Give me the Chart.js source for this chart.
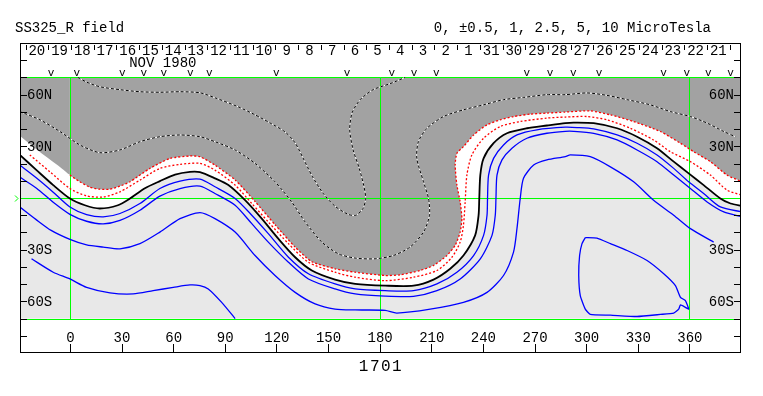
<!DOCTYPE html>
<html>
<head>
<meta charset="utf-8">
<script src="https://cdn.jsdelivr.net/npm/chart.js@4.4.0/dist/chart.umd.min.js"></script>
<style>
  html, body { margin: 0; padding: 0; background: #fff; }
  canvas { display: block; }
</style>
</head>
<body>
<canvas id="synoptic" width="763" height="396"></canvas>
<script>
/* ---------- texts ---------- */
const titleText = "SS325_R field";
const levelsText = "0, \u00b10.5, 1, 2.5, 5, 10 MicroTesla";
const monthText = "NOV 1980";
const rotationText = "1701";

/* ---------- axes ---------- */
const lonMin = -29, lonMax = 390;
const dataLat = 70; // map is drawn between 70S and 70N
const lonTicks = [0, 30, 60, 90, 120, 150, 180, 210, 240, 270, 300, 330, 360];
const latTicks = [-80, -70, -60, -50, -40, -30, -20, -10, 10, 20, 30, 40, 50, 60, 70, 80];
const latLabelValues = [60, 30, -30, -60];
const latLabelText = ["60N", "30N", "30S", "60S"];
const gridLons = [0, 180, 360];
const gridLats = [70, 0, -70];

// days of the rotation, read right to left in time
const dayLabels = ["20", "19", "18", "17", "16", "15", "14", "13", "12", "11", "10", "9", "8", "7", "6",
  "5", "4", "3", "2", "1", "31", "30", "29", "28", "27", "26", "25", "24", "23", "22", "21"];
const firstDayEdge = -25.8; // longitude of the left edge of "20"
const degPerDay = 13.2;
// longitudes of the "v" marks
const passLons = [-11, 4, 30.5, 43, 54.5, 70, 81, 120, 161, 187, 200, 213, 265.5, 279, 292.5, 307.5, 345, 358.5, 371, 384];

/* ---------- contours [longitude, latitude] ---------- */
// neutral line (0)
const neutralLine = [[-29.1,25.0],[-19.4,16.2],[-9.7,7.5],[0,-0.3],[8.7,-4.2],[17.4,-6.1],[27.9,-4.2],[34.9,-0.3],
  [43.6,5.7],[52.3,9.8],[61.1,13.6],[69.8,15.2],[75.6,15.0],[84.3,11.4],[92.1,7.5],[101.8,-1.3],[111.5,-12.0],
  [121.1,-23.6],[130.9,-34.4],[140.6,-42.1],[154.1,-47.4],[165.8,-49.9],[183.2,-50.9],[199.7,-50.9],[211.3,-47.4],
  [221.0,-41.1],[228.7,-33.4],[235.5,-21.7],[237.5,-10.0],[237.9,-0.3],[238.5,13.3],[240.4,23.0],[246.2,31.8],
  [254.0,37.6],[265.6,40.5],[277.2,42.1],[287.9,43.5],[292.7,43.8],[304.4,43.5],[318.0,40.5],[329.6,35.6],
  [341.2,28.9],[350.9,21.1],[359.6,14.3],[368.3,7.5],[378.0,-0.3],[383.9,-3.2],[390.7,-4.6]];
// positive, red dotted (inner)
const posInner = [[-23.3,25.0],[-11.6,15.2],[0,5.5],[9.7,1.2],[19.4,0.6],[29.1,3.6],[40.7,10.4],[52.3,17.2],
  [64.0,19.5],[75.6,20.1],[84.3,16.2],[96.0,7.5],[105.7,-3.2],[115.3,-13.9],[127.0,-26.5],[138.6,-37.3],
  [154.1,-43.1],[165.8,-46.0],[183.2,-48.0],[199.7,-46.0],[213.3,-42.1],[222.0,-34.4],[226.8,-25.6],[228.7,-15.9],
  [229.7,-2.3],[230.7,13.3],[233.6,25.0],[240.4,34.7],[250.1,41.5],[261.7,44.4],[277.2,46.4],[287.9,47.0],
  [300.5,47.3],[312.1,45.4],[325.7,40.5],[339.2,33.7],[348.9,26.9],[360.6,21.1],[372.2,13.3],[381.9,4.6],[390.7,1.6]];
// positive, edge of the shaded region
const posOuter = [[-29.1,36.1],[-17.4,26.7],[-5.8,18.0],[0,13.3],[5.8,9.4],[11.6,6.3],[17.4,5.1],[23.3,5.1],
  [29.1,6.9],[34.9,9.4],[46.5,17.2],[58.2,23.0],[69.8,24.4],[75.6,24.0],[84.3,19.1],[96.0,10.5],[107.6,-2.0],
  [119.2,-15.5],[130.9,-28.5],[140.6,-37.0],[154.1,-41.1],[165.8,-43.1],[183.2,-45.0],[191.9,-44.6],[203.5,-42.1],
  [211.3,-39.2],[219.1,-33.4],[223.9,-27.5],[226.8,-19.8],[227.8,-12.0],[226.8,-2.3],[224.9,7.5],[223.9,19.1],
  [224.9,26.0],[228.7,29.8],[234.6,36.6],[242.4,42.5],[250.1,45.4],[257.8,47.3],[267.5,48.7],[277.2,49.3],
  [287.9,49.9],[302.4,50.6],[314.1,48.3],[327.6,44.4],[343.2,38.6],[354.8,31.8],[362.5,26.9],[372.2,21.1],
  [381.9,13.3],[390.7,9.4]];
// positive, inside the shaded region
const posHighA = [[4.7,70],[9.7,67.3],[17.4,64.6],[29.1,62.9],[40.7,61.7],[52.3,61.4],[64.0,61.7],[75.6,61.1],
  [84.3,58.2],[97.7,53.0],[107.6,48.3],[116.3,43.6],[125.0,38.4],[130.9,32.0],[135.5,23.2],[140.8,12.7],
  [147.1,2.8],[154.1,-4.8],[161.7,-9.5],[166.3,-10.0],[170.4,-6.0],[171.9,-0.1],[170.7,7.5],[168.1,17.4],
  [164.6,27.9],[162.6,39.6],[164.0,49.5],[168.7,57.1],[176.2,62.9],[186.1,66.4],[194.8,70.0]];
const posHighB = [[-29.1,50.2],[-17.4,45.4],[-5.8,38.6],[5.8,30.8],[17.4,26.3],[29.1,27.9],[40.7,32.7],[52.3,35.6],
  [64.0,36.6],[75.6,35.6],[84.3,32.7],[96.0,27.9],[107.6,20.1],[119.2,9.4],[128.9,-2.3],[136.7,-13.9],
  [146.4,-25.6],[156.0,-32.4],[165.8,-34.9],[177.4,-35.3],[188.0,-33.4],[197.7,-28.5],[205.5,-19.8],[209.0,-10.0],
  [208.4,-0.3],[205.5,9.4],[201.6,23.0],[202.5,32.7],[207.5,40.5],[217.1,47.3],[228.7,51.2],[240.4,54.1],
  [252.0,57.1],[263.6,58.4],[277.2,60.0],[287.9,60.0],[300.5,61.0],[312.1,59.6],[323.8,57.1],[337.3,54.1],
  [348.9,50.2],[360.6,47.3],[370.3,43.5],[380.0,38.6],[386.7,35.6]];
// negative, blue
const neg1 = [[-29.1,19.1],[-19.4,11.6],[-9.7,3.4],[0,-5.2],[9.7,-9.6],[19.4,-11.0],[29.1,-9.0],[40.7,-3.2],
  [52.3,5.5],[64.0,9.8],[75.6,11.0],[84.3,6.5],[96.0,-0.3],[105.7,-10.0],[115.3,-20.7],[127.0,-34.4],[138.6,-44.0],
  [154.1,-49.9],[165.8,-52.8],[183.2,-53.8],[199.7,-53.8],[213.3,-49.9],[224.9,-43.1],[234.6,-33.4],[240.4,-21.7],
  [242.4,-10.0],[242.7,-0.3],[243.3,13.3],[246.2,23.0],[252.0,30.8],[259.8,36.6],[271.4,39.6],[287.9,41.1],
  [294.7,40.9],[304.4,40.1],[318.0,36.6],[329.6,31.8],[341.2,25.0],[350.9,17.2],[359.6,9.4],[368.3,2.6],
  [378.0,-5.2],[390.7,-8.1]];
const neg2 = [[-29.1,12.1],[-19.4,5.7],[-9.7,-2.5],[0,-9.5],[9.7,-13.5],[19.4,-15.0],[29.1,-13.0],[40.7,-7.1],
  [52.3,1.1],[64.0,5.5],[75.6,6.9],[84.3,2.6],[96.0,-4.2],[105.7,-14.9],[115.3,-25.6],[127.0,-37.3],[138.6,-47.0],
  [154.1,-52.8],[165.8,-55.7],[183.2,-57.0],[199.7,-57.1],[213.3,-53.8],[226.8,-47.0],[238.5,-35.3],[245.3,-21.7],
  [247.2,-10.0],[247.6,-0.3],[248.2,13.3],[251.1,22.1],[256.9,28.9],[265.6,34.7],[277.2,37.6],[287.9,38.7],
  [292.7,38.7],[304.4,37.5],[318.0,33.7],[329.6,27.9],[341.2,21.1],[350.9,13.3],[360.6,5.5],[370.3,-2.3],
  [380.0,-8.1],[390.7,-11.0]];
const neg3 = [[-29.1,-5.2],[-19.8,-12.4],[-10.9,-18.8],[0,-24.0],[9.7,-27.2],[19.4,-28.5],[29.1,-29.5],[40.7,-26.5],
  [52.3,-19.8],[64.0,-12.0],[75.6,-8.5],[84.3,-12.0],[96.0,-19.8],[107.6,-33.4],[119.2,-45.0],[130.9,-54.8],
  [142.5,-61.5],[154.1,-64.5],[165.8,-65.0],[183.2,-65.2],[190.0,-66.8],[209.4,-64.5],[228.7,-60.6],[242.4,-54.8],
  [252.0,-45.0],[257.8,-31.4],[259.8,-17.8],[261.7,-0.3],[263.6,11.4],[269.5,19.1],[277.2,22.1],[287.9,24.0],
  [290.8,25.0],[302.4,24.0],[314.1,18.1],[327.6,9.4],[339.2,-1.3],[350.9,-10.0],[360.6,-17.8],[374.1,-25.6]];
const neg4 = [[-22.3,-35.3],[-9.7,-43.1],[0,-47.0],[9.7,-51.9],[23.3,-55.1],[36.8,-55.7],[48.4,-53.8],[60.1,-51.9],
  [69.8,-50.5],[75.6,-50.9],[80.4,-52.8],[88.2,-60.6],[96.0,-70.0]];
const negLoop = [[299.5,-23.0],[306.3,-23.3],[314.1,-26.5],[323.8,-30.5],[335.4,-36.3],[345.1,-44.0],[351.9,-50.9],
  [354.8,-57.7],[357.7,-59.6],[359.6,-64.5],[357.7,-63.5],[354.8,-62.1],[353.8,-64.5],[350.9,-66.8],[343.2,-67.6],
  [329.6,-68.8],[314.1,-68.0],[302.4,-67.6],[299.5,-64.5],[296.6,-56.7],[295.7,-45.0],[296.2,-33.4],[297.6,-26.5],
  [299.5,-23.0]];

/* ---------- colours ---------- */
const BLUE = "#0000ff", RED = "#ff0000", GREEN = "#00ff00";
const SHADE = "#a2a2a2", LIGHT = "#e8e8e8";
const FONT = '"Liberation Mono", "DejaVu Sans Mono", monospace';

const contour = (pts, color, extra) => Object.assign({
  data: pts.map(([x, y]) => ({ x, y })),
  showLine: true,
  borderColor: color,
  borderWidth: 1.3,
  pointRadius: 0,
  fill: false,
  tension: 0.25,
}, extra);

/* ---------- frame, labels, green grid ---------- */
const snap = (v) => Math.round(v) + 0.5;

const mapFrame = {
  id: "mapFrame",
  beforeDraw(chart) {
    const { ctx, chartArea: a, scales: { y } } = chart;
    ctx.save();
    ctx.fillStyle = "#fff";
    ctx.fillRect(0, 0, chart.width, chart.height);
    const top = y.getPixelForValue(dataLat), bot = y.getPixelForValue(-dataLat);
    ctx.fillStyle = LIGHT;
    ctx.fillRect(a.left, top, a.right - a.left, bot - top);
    ctx.restore();
  },
  // runs after the filler has painted the shaded areas
  beforeDatasetsDraw(chart) {
    const { ctx, chartArea: a, scales: { x, y } } = chart;
    ctx.save();
    ctx.strokeStyle = GREEN;
    ctx.lineWidth = 1;
    ctx.beginPath();
    gridLats.forEach((lat) => {
      const py = snap(y.getPixelForValue(lat));
      ctx.moveTo(a.left, py); ctx.lineTo(a.right, py);
    });
    const top = snap(y.getPixelForValue(dataLat)), bot = snap(y.getPixelForValue(-dataLat));
    gridLons.forEach((lon) => {
      const px = snap(x.getPixelForValue(lon));
      ctx.moveTo(px, top); ctx.lineTo(px, bot);
    });
    // small equator marker left of the frame
    const eq = snap(y.getPixelForValue(0));
    ctx.moveTo(a.left - 5, eq - 3); ctx.lineTo(a.left - 2, eq); ctx.lineTo(a.left - 5, eq + 3);
    ctx.stroke();
    ctx.restore();
  },
  afterDraw(chart) {
    const { ctx, chartArea: a, scales: { x, y } } = chart;
    ctx.save();
    ctx.strokeStyle = "#000";
    ctx.lineWidth = 1;
    ctx.strokeRect(a.left + 0.5, a.top + 0.5, a.right - a.left - 1, a.bottom - a.top - 1);

    ctx.beginPath();
    latTicks.forEach((lat) => {
      const py = snap(y.getPixelForValue(lat));
      ctx.moveTo(a.left, py); ctx.lineTo(a.left + 7, py);
      ctx.moveTo(a.right - 7, py); ctx.lineTo(a.right, py);
    });
    lonTicks.forEach((lon) => {
      const px = snap(x.getPixelForValue(lon));
      ctx.moveTo(px, a.bottom); ctx.lineTo(px, a.bottom - 9);
    });
    for (let i = 0; i <= dayLabels.length; i++) {
      const px = snap(x.getPixelForValue(firstDayEdge + i * degPerDay));
      ctx.moveTo(px, a.top + 2); ctx.lineTo(px, a.top + 7);
    }
    ctx.stroke();

    ctx.fillStyle = "#000";
    ctx.font = "14px " + FONT;
    ctx.textBaseline = "alphabetic";
    ctx.textAlign = "left";
    ctx.fillText(titleText, 15, 32);
    ctx.textAlign = "right";
    ctx.fillText(levelsText, 711, 32);

    // day numbers
    ctx.textAlign = "center";
    dayLabels.forEach((d, i) => {
      ctx.fillText(d, x.getPixelForValue(firstDayEdge + (i + 0.5) * degPerDay), 55);
    });
    ctx.fillText(monthText, x.getPixelForValue(54), 67);

    // longitude labels
    lonTicks.forEach((lon) => ctx.fillText(String(lon), x.getPixelForValue(lon) + 0.5, 342));

    // latitude labels, inside the frame on both sides
    ctx.textBaseline = "middle";
    latLabelValues.forEach((lat, i) => {
      const py = y.getPixelForValue(lat) + 1;
      ctx.textAlign = "left";
      ctx.fillText(latLabelText[i], a.left + 7, py);
      ctx.textAlign = "right";
      ctx.fillText(latLabelText[i], a.right - 7, py);
    });

    // "v" marks
    ctx.font = "11px " + FONT;
    ctx.textAlign = "center";
    ctx.textBaseline = "alphabetic";
    passLons.forEach((lon) => ctx.fillText("v", x.getPixelForValue(lon), 76));

    // rotation number
    ctx.font = "16px " + FONT;
    ctx.letterSpacing = "1.5px";
    ctx.fillText(rotationText, 381, 371);
    ctx.restore();
  },
};

new Chart(document.getElementById("synoptic"), {
  type: "scatter",
  data: {
    datasets: [
      contour(posHighA, "#000", { borderWidth: 1, borderDash: [3, 2] }),
      contour(posHighA, "#fff", { borderWidth: 1 }),
      contour(posHighB, "#000", { borderWidth: 1, borderDash: [3, 2] }),
      contour(posHighB, "#fff", { borderWidth: 1 }),
      contour(neg1, BLUE),
      contour(neg2, BLUE),
      contour(neg3, BLUE),
      contour(neg4, BLUE),
      contour(negLoop, BLUE, { tension: 0.15 }),
      contour(posInner, RED, { borderDash: [2, 2] }),
      contour(posOuter, RED, {
        borderDash: [2, 2],
        fill: { value: dataLat },
        backgroundColor: SHADE,
        tension: 0.2,
        segment: { borderColor: (c) => (c.p0.parsed.x < -2 ? "rgba(0,0,0,0)" : RED) },
      }),
      contour(neutralLine, "#000", {
        borderWidth: 1.8,
        fill: { value: dataLat },
        backgroundColor: "#fff",
      }),
    ],
  },
  options: {
    responsive: false,
    animation: false,
    events: [],
    layout: { padding: { left: 20, right: 22, top: 43, bottom: 43 } },
    scales: {
      x: { type: "linear", min: lonMin, max: lonMax, display: false },
      y: { type: "linear", min: -90, max: 90, display: false },
    },
    plugins: {
      legend: { display: false },
      tooltip: { enabled: false },
      filler: { drawTime: "beforeDatasetsDraw" },
    },
  },
  plugins: [mapFrame],
});
</script>
</body>
</html>
